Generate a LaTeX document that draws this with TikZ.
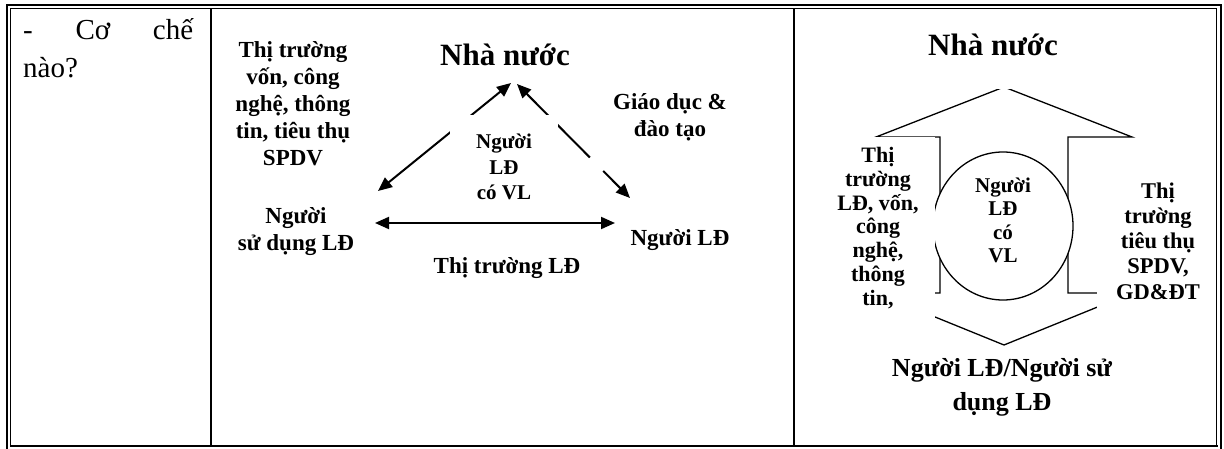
\documentclass[tikz,border=0pt]{standalone}
\usepackage{fontspec}
\setmainfont{Liberation Serif}
\usetikzlibrary{arrows.meta,shapes.geometric}

\begin{document}
\begin{tikzpicture}[x=1pt,y=-1pt,
  txt/.style={font=\bfseries\fontsize{23}{27}\selectfont, align=center, inner sep=0pt},
  head/.style={font=\bfseries\fontsize{31}{36}\selectfont, inner sep=0pt},
  body/.style={font=\fontsize{29}{36}\selectfont, inner sep=0pt, anchor=base west},
  conn/.style={line width=2pt},
  tri/.tip={Triangle[length=14pt,width=12pt]},
  outline/.style={line width=1.3pt, line join=miter},
  frameouter/.style={line width=2pt},
  frameinner/.style={line width=1pt},
  sep/.style={line width=1.7pt},
]
\useasboundingbox (0,0) rectangle (1224,449);

% ---------- first column ----------
\node[body] (q1) at (23,40) {\makebox[170pt][s]{-\hfill Cơ\hfill chế}};
\node[body] (q2) at (23,78) {nào?};

% ---------- triangle diagram ----------
\node[txt] (mk) at (293,104) {Thị trường\\vốn, công\\nghệ, thông\\tin, tiêu thụ\\SPDV};
\node[head] (nn) at (505,55) {Nhà nước};
\node[txt] (gd) at (670,117) {Giáo dục \&\\đào tạo};
\node[txt] (su) at (296,232) {Người\\sử dụng LĐ};
\node[txt] (ld) at (680,240) {Người LĐ};
\node[txt] (tt) at (507,268) {Thị trường LĐ};

\coordinate (nnL) at (511,83);
\coordinate (nnR) at (517,84);
\coordinate (suT) at (378,191);
\coordinate (ldT) at (630,198);
\coordinate (suE) at (375,223);
\coordinate (ldW) at (615,223);

\draw[conn, tri-tri] (suT) -- (nnL);
\draw[conn, tri-tri, dash pattern=on 90pt off 19pt] (nnR) -- (ldT);
\draw[conn, tri-tri] (suE) -- (ldW);

\node[txt, font=\bfseries\fontsize{21}{25.5}\selectfont, fill=white,
      minimum width=108pt, minimum height=104pt] (cv) at (504,167) {Người\\LĐ\\có VL};

% ---------- double block arrow diagram ----------
\draw[outline] (876,137) -- (1004,87) -- (1132,137) -- (1068,137) -- (1068,293)
  -- (1132,293) -- (1004,345) -- (876,293) -- (940,293) -- (940,137) -- cycle;

\node[head, fill=white, minimum height=88pt] (nn3) at (993,45) {Nhà nước};
\node[ellipse, draw, line width=1.3pt, fill=white, minimum width=140pt, minimum height=148pt,
      inner sep=0pt, align=center, font=\bfseries\fontsize{21}{23.5}\selectfont]
      (el) at (1003,226) {Người\\LĐ\\có\\\rule[-12pt]{0pt}{12pt}VL};
\node[txt, font=\bfseries\fontsize{22}{23.8}\selectfont, fill=white,
      minimum width=113pt, minimum height=182pt] (lm) at (878,228)
      {Thị\\trường\\LĐ, vốn,\\công\\nghệ,\\thông\\tin,};
\node[txt, font=\bfseries\fontsize{22.5}{25.2}\selectfont, fill=white,
      minimum width=122pt, minimum height=150pt] (rm) at (1158,241)
      {Thị\\trường\\tiêu thụ\\SPDV,\\GD\&ĐT};
\node[txt, font=\bfseries\fontsize{26}{34}\selectfont] (bt) at (1002,387)
      {Người LĐ/Người sử\\dụng LĐ};

% ---------- table frame ----------
\draw[frameouter] (7,449) -- (7,5) -- (1221,5) -- (1221,449);
\draw[frameinner] (10.5,446) -- (10.5,8.5) -- (1216.7,8.5) -- (1216.7,446);
\draw[frameouter] (10,445.7) -- (1217.5,445.7);
\draw[sep] (211,8.5) -- (211,446);
\draw[sep] (794,8.5) -- (794,446);
\end{tikzpicture}
\end{document}
